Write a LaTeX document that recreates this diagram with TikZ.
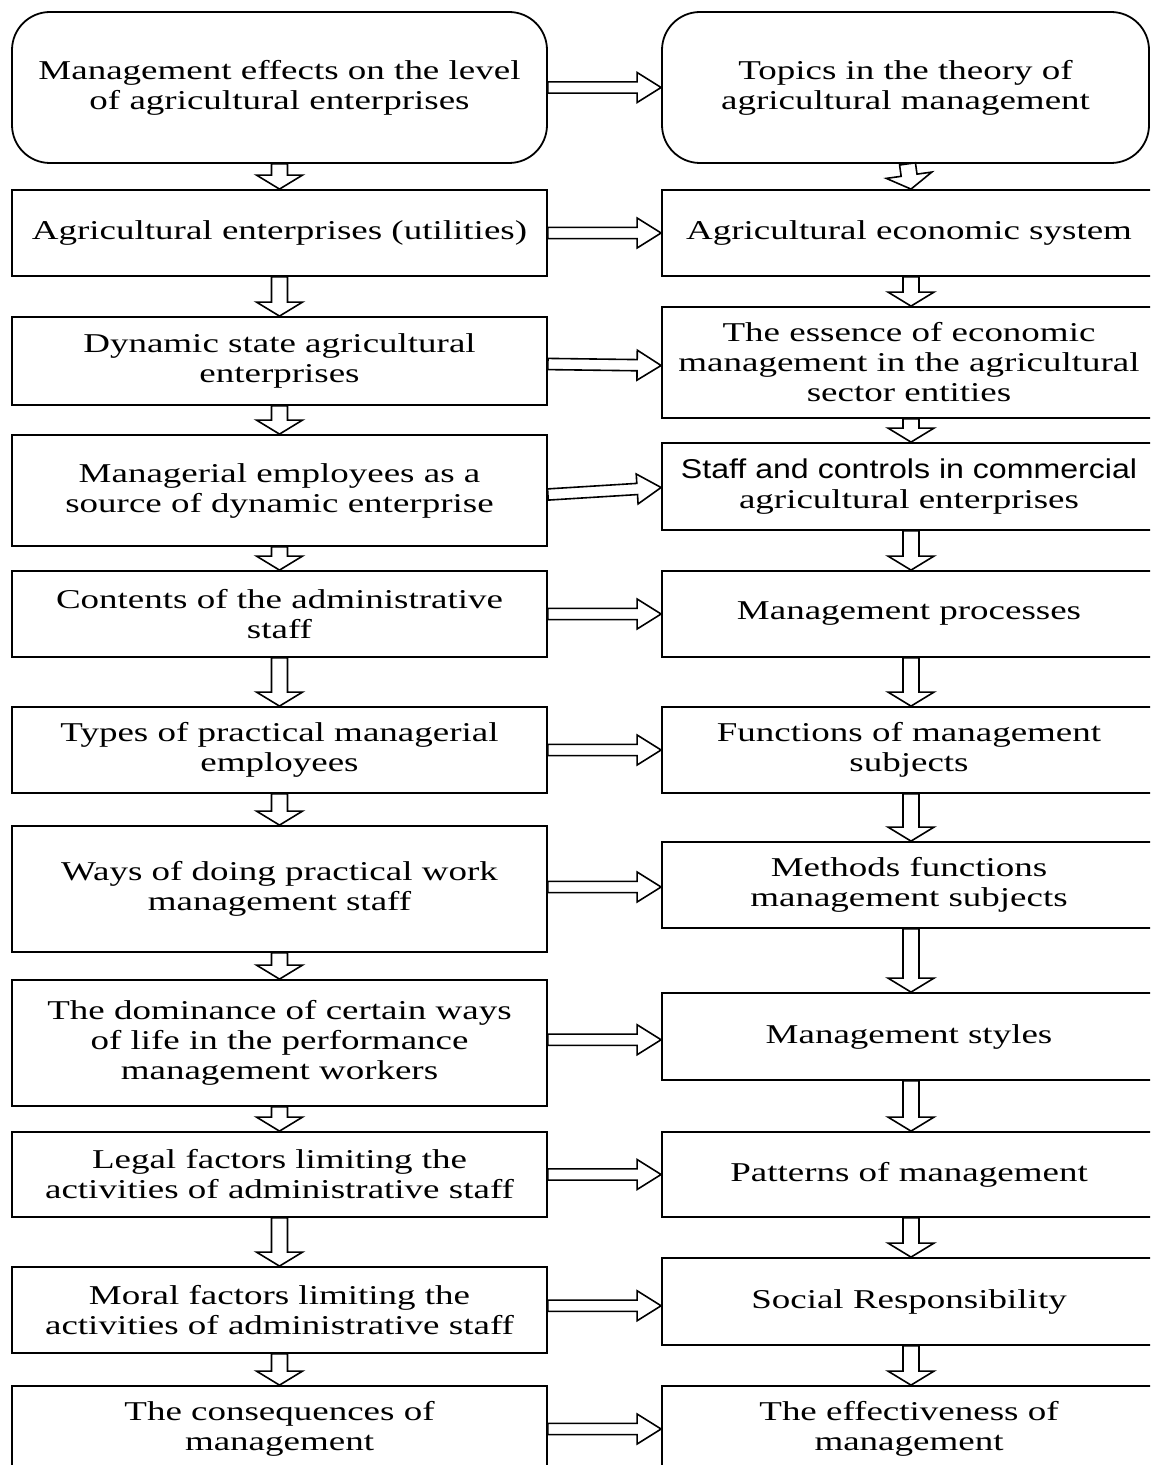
\documentclass[tikz,border=0pt]{standalone}
\usepackage{fontspec}
\setmainfont{Liberation Serif}[FakeStretch=1.36]
\setsansfont{Liberation Sans}[FakeStretch=1.18]
\usetikzlibrary{calc}

\tikzset{
  box/.style={draw, line width=0.9pt, align=center, inner sep=0pt,
    font=\fontsize{13.6}{15}\selectfont},
  lbox/.style={box, minimum width=267.5pt},
  rbox/.style={box, minimum width=247pt},
  topbox/.style={box, rounded corners=19pt},
  % hollow block arrow: #1 shaft half-width, #2 head half-width, #3 head length
  hollow/.style n args={3}{line width=0.8pt, line join=miter, to path={
    ($(\tikztostart)!#1!90:(\tikztotarget)$)
    -- ($($(\tikztotarget)!#3!(\tikztostart)$)!#1!90:(\tikztotarget)$)
    -- ($($(\tikztotarget)!#3!(\tikztostart)$)!#2!90:(\tikztotarget)$)
    -- (\tikztotarget)
    -- ($($(\tikztotarget)!#3!(\tikztostart)$)!#2!-90:(\tikztotarget)$)
    -- ($($(\tikztotarget)!#3!(\tikztostart)$)!#1!-90:(\tikztotarget)$)
    -- ($(\tikztostart)!#1!-90:(\tikztotarget)$)
    -- cycle}},
  down/.style={hollow={4pt}{11.5pt}{7pt}},
  across/.style={hollow={2.8pt}{7.5pt}{12pt}}
}

\begin{document}
\begin{tikzpicture}[x=0.5pt, y=-0.5pt]
\useasboundingbox (0,0) rectangle (1150,1465);
\clip (0,0) rectangle (1150,1465);

% left column
\node[topbox, minimum width=267.5pt, minimum height=75.5pt] (l1) at (279.5,87.5)
  {Management effects on the level\\of agricultural enterprises};
\node[lbox, minimum height=43pt] (l2) at (279.5,233) {Agricultural enterprises (utilities)};
\node[lbox, minimum height=44pt] (l3) at (279.5,361) {Dynamic state agricultural\\enterprises};
\node[lbox, minimum height=55.5pt] (l4) at (279.5,490.5) {Managerial employees as a\\source of dynamic enterprise};
\node[lbox, minimum height=43pt] (l5) at (279.5,614) {Contents of the administrative\\staff};
\node[lbox, minimum height=43pt] (l6) at (279.5,750) {Types of practical managerial\\employees};
\node[lbox, minimum height=63pt] (l7) at (279.5,889) {Ways of doing practical work\\management staff};
\node[lbox, minimum height=63pt] (l8) at (279.5,1043) {The dominance of certain ways\\of life in the performance\\management workers};
\node[lbox, minimum height=42.5pt] (l9) at (279.5,1174.5) {Legal factors limiting the\\activities of administrative staff};
\node[lbox, minimum height=43pt] (l10) at (279.5,1310) {Moral factors limiting the\\activities of administrative staff};
\node[lbox, minimum height=43pt] (l11) at (279.5,1429) {The consequences of\\management};

% right column
\node[topbox, minimum width=243.5pt, minimum height=75.5pt] (r1) at (905.5,87.5)
  {Topics in the theory of\\agricultural management};
\node[rbox, minimum height=43pt] (r2) at (909,233) {Agricultural economic system};
\node[rbox, minimum height=55.5pt] (r3) at (909,362.5) {The essence of economic\\management in the agricultural\\sector entities};
\node[rbox, minimum height=43.5pt] (r4) at (909,486.5) {{\sffamily Staff and controls in commercial}\\agricultural enterprises};
\node[rbox, minimum height=43pt] (r5) at (909,614) {Management processes};
\node[rbox, minimum height=43pt] (r6) at (909,750) {Functions of management\\subjects};
\node[rbox, minimum height=43pt] (r7) at (909,885) {Methods functions\\management subjects};
\node[rbox, minimum height=43.5pt] (r8) at (909,1036.5) {Management styles};
\node[rbox, minimum height=42.5pt] (r9) at (909,1174.5) {Patterns of management};
\node[rbox, minimum height=43.5pt] (r10) at (909,1301.5) {Social Responsibility};
\node[rbox, minimum height=43pt] (r11) at (909,1429) {The effectiveness of\\management};

% downward arrows
\foreach \a/\b in {l1/l2,l2/l3,l3/l4,l4/l5,l5/l6,l6/l7,l7/l8,l8/l9,l9/l10,l10/l11}
  \draw[down] (\a.south) to (\b.north);
\foreach \a/\b in {r1/r2,r2/r3,r3/r4,r4/r5,r5/r6,r6/r7,r7/r8,r8/r9,r9/r10,r10/r11}
  \draw[down] ([xshift=1pt]\a.south) to ([xshift=1pt]\b.north);

% arrows across: level ones at the mean height of both boxes
\foreach \i in {1,2,5,6,7,8,9,10,11} {
  \coordinate (m\i) at ($(l\i.east)!0.5!(r\i.west)$);
  \draw[across] (l\i.east |- m\i) to (r\i.west |- m\i);
}
% the two slightly slanted ones
\draw[across] ([yshift=-1.5pt]l3.east) to ([yshift=-1.5pt]r3.west);
\draw[across] ([yshift=-2pt]l4.east) to ([yshift=-0.5pt]r4.west);
\end{tikzpicture}
\end{document}
